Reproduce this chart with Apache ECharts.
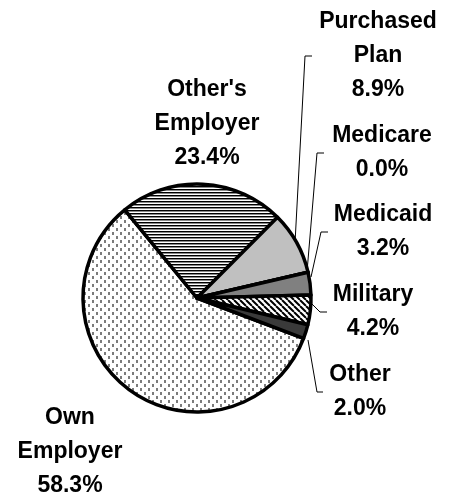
<!DOCTYPE html>
<html>
<head>
<meta charset="utf-8">
<script src="https://cdn.jsdelivr.net/npm/echarts@6/dist/echarts.min.js"></script>
<style>
  html, body { margin: 0; padding: 0; background: #ffffff; }
  #chart { width: 452px; height: 494px; }
</style>
</head>
<body>
<div id="chart"></div>
<script>
// Health coverage source shares (percent)
const categories = ["Own\nEmployer", "Other's\nEmployer", "Purchased\nPlan", "Medicare", "Medicaid", "Military", "Other"];
const shares = [58.3, 23.4, 8.9, 0.0, 3.2, 4.2, 2.0];

// Label block centres and leader-line paths, one per slice
const labelAt = [[70, 452], [207, 124], [378, 56], [382, 153], [383, 232], [373, 312], [360, 392]];
const leaderPaths = [
  null,
  null,
  [[295, 243], [305, 56], [312, 56]],
  [[307, 272], [317, 153], [324, 153]],
  [[311, 277], [321, 232], [328, 232]],
  [[310, 302], [320, 312], [327, 312]],
  [[308, 340], [317, 392], [323, 392]]
];

function makeTile(w, h, draw) {
  const c = document.createElement('canvas');
  c.width = w; c.height = h;
  const ctx = c.getContext('2d');
  ctx.fillStyle = '#ffffff';
  ctx.fillRect(0, 0, w, h);
  draw(ctx);
  return { image: c, repeat: 'repeat' };
}

// Fine staggered dots
const dotFill = makeTile(8, 8, ctx => {
  ctx.fillStyle = '#7c7c7c';
  ctx.fillRect(0, 0, 2, 3);
  ctx.fillRect(4, 4, 2, 3);
});
// Dense horizontal stripes
const stripeFill = makeTile(4, 3, ctx => {
  ctx.fillStyle = '#000000';
  ctx.fillRect(0, 0, 4, 1);
  ctx.fillStyle = '#8a8a8a';
  ctx.fillRect(0, 1, 4, 1);
});
// Diagonal hatching, top-left to bottom-right
const hatchFill = makeTile(6, 6, ctx => {
  ctx.strokeStyle = '#000000';
  ctx.lineWidth = 2;
  ctx.beginPath();
  for (let k = -6; k <= 12; k += 6) {
    ctx.moveTo(k, 0);
    ctx.lineTo(k + 6, 6);
  }
  ctx.stroke();
});

const fills = [dotFill, stripeFill, '#c0c0c0', '#c0c0c0', '#808080', hatchFill, '#3a3a3a'];

const chart = echarts.init(document.getElementById('chart'), null, { renderer: 'canvas' });

chart.setOption({
  backgroundColor: '#ffffff',
  animation: false,
  series: [{
    type: 'pie',
    center: [197, 298],
    radius: 114,
    startAngle: -20.8,
    clockwise: true,
    avoidLabelOverlap: false,
    itemStyle: { borderColor: '#000000', borderWidth: 3.5 },
    emphasis: { disabled: true },
    label: {
      show: true,
      position: 'outside',
      fontFamily: '"Liberation Sans", Arial, sans-serif',
      fontWeight: 'bold',
      fontSize: 23,
      lineHeight: 34,
      color: '#000000',
      align: 'center',
      formatter: p => p.name + '\n' + p.value.toFixed(1) + '%'
    },
    labelLine: {
      show: true,
      smooth: false,
      lineStyle: { color: '#000000', width: 1 }
    },
    labelLayout: params => {
      const i = params.dataIndex;
      const out = {
        x: labelAt[i][0],
        y: labelAt[i][1],
        align: 'center',
        verticalAlign: 'middle'
      };
      if (leaderPaths[i]) out.labelLinePoints = leaderPaths[i];
      return out;
    },
    data: categories.map((name, i) => ({
      name: name,
      value: shares[i],
      itemStyle: { color: fills[i] },
      labelLine: { show: leaderPaths[i] !== null }
    }))
  }]
});
</script>
</body>
</html>
